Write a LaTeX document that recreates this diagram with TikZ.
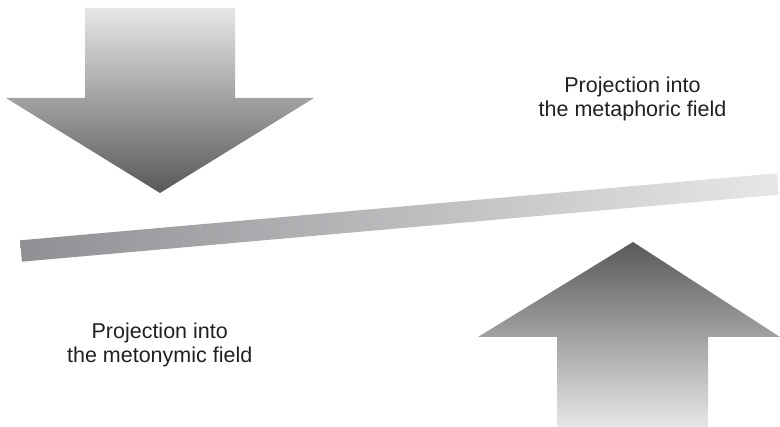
\documentclass[tikz,border=0pt]{standalone}
\usepackage{fontspec}
\setmainfont{Liberation Sans}
\definecolor{lightg}{HTML}{E6E7E8}
\definecolor{darkg}{HTML}{58595B}
\definecolor{barleft}{HTML}{8F9093}
\definecolor{txt}{HTML}{231F20}
\tikzset{
  lbl/.style={align=center, text=txt, font=\fontsize{21.5pt}{24pt}\selectfont, inner sep=0pt},
}
\begin{document}
\begin{tikzpicture}[x=1pt,y=-1pt]
\useasboundingbox (0,0) rectangle (780,427);
% down arrow
\shade[top color=lightg, bottom color=darkg]
  (85,8) -- (235,8) -- (235,98) -- (314,98) -- (160,193) -- (6,98) -- (85,98) -- cycle;
% up arrow
\shade[top color=darkg, bottom color=lightg]
  (633,242) -- (780,337) -- (708,337) -- (708,427) -- (557,427) -- (557,337) -- (478,337) -- cycle;
% bar
\shade[left color=barleft, right color=lightg]
  (20.06,240.3) -- (777.06,173.3) -- (778.94,194.7) -- (21.94,261.7) -- cycle;
% labels
\node[lbl, anchor=base] (meta) at (632.5,117) {Projection into\\the metaphoric field};
\node[lbl, anchor=base] (meto) at (159.7,363) {Projection into\\the metonymic field};
\end{tikzpicture}
\end{document}
